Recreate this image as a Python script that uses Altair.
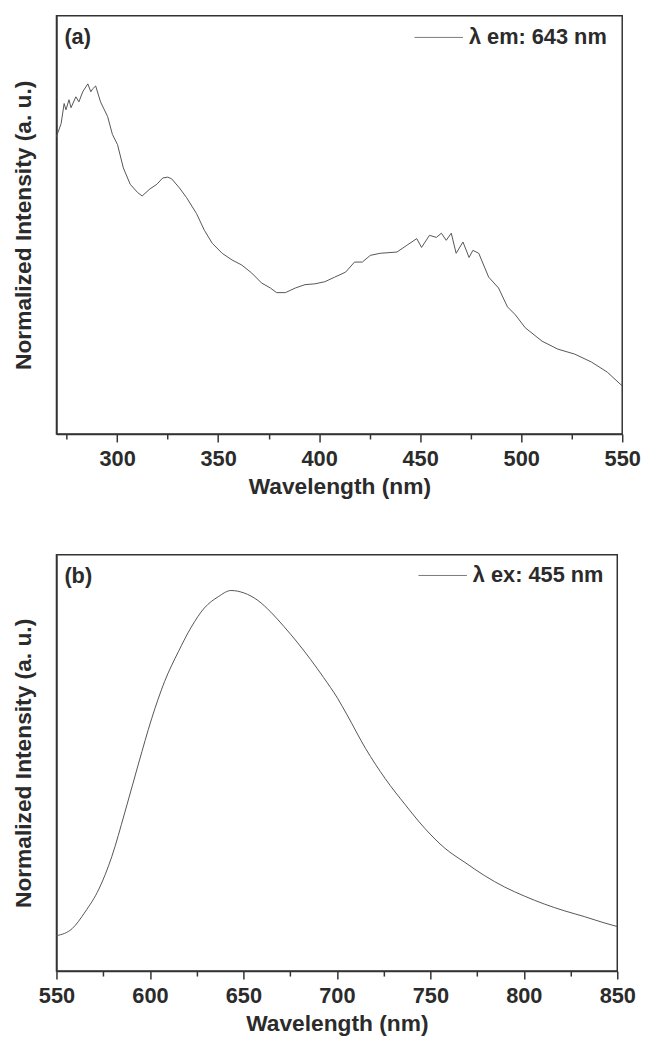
import altair as alt
import pandas as pd

# ---- (a) excitation spectrum, monitored at 643 nm ----
ex_wavelength = [270, 272.3, 273.8, 274.7, 276.2, 277.2, 279.6, 281.1, 283.0, 285.5,
                 287.0, 287.9, 289.4, 291.8, 295.3, 297.7, 300.2, 303.1, 306.5, 310.2,
                 312.4, 316.3, 319.7, 322.6, 325.1, 327.0, 330.9, 334.4, 339.3, 343.2,
                 347.1, 352.0, 356.9, 361.7, 366.6, 371.5, 375.9, 378.9, 383.3, 388.2,
                 393.0, 397.9, 402.8, 407.7, 413.1, 417.5, 421.4, 425.3, 430.2, 438.5,
                 443.4, 448.3, 450.7, 454.6, 458.0, 460.5, 462.9, 465.4, 467.8, 471.2,
                 474.2, 476.1, 479.0, 483.9, 488.8, 493.2, 497.1, 502.0, 510.3, 518.1,
                 526.5, 534.8, 542.6, 550]
ex_intensity = [0.711, 0.742, 0.790, 0.775, 0.799, 0.780, 0.806, 0.794, 0.818, 0.837,
                0.818, 0.825, 0.832, 0.794, 0.759, 0.716, 0.692, 0.636, 0.597, 0.577,
                0.569, 0.586, 0.597, 0.612, 0.614, 0.610, 0.588, 0.565, 0.527, 0.487,
                0.456, 0.432, 0.416, 0.404, 0.385, 0.361, 0.349, 0.338, 0.338, 0.349,
                0.357, 0.359, 0.364, 0.375, 0.387, 0.411, 0.411, 0.427, 0.432, 0.435,
                0.451, 0.467, 0.446, 0.475, 0.470, 0.480, 0.463, 0.480, 0.432, 0.459,
                0.422, 0.439, 0.432, 0.375, 0.349, 0.304, 0.285, 0.254, 0.222, 0.203,
                0.191, 0.172, 0.148, 0.115]

# ---- (b) emission spectrum, excited at 455 nm ----
em_wavelength = [550, 558.4, 565.3, 572.7, 579.6, 586.5, 594.0, 600.9, 607.8, 615.2,
                 622.1, 629.1, 636.5, 643.4, 650.4, 657.8, 664.7, 671.6, 679.1, 686.0,
                 692.9, 700.4, 705.5, 715.3, 725.9, 736.5, 747.2, 757.8, 768.5, 779.1,
                 789.7, 800.4, 811.0, 821.6, 832.3, 842.9, 850]
em_intensity = [0.085, 0.102, 0.142, 0.197, 0.275, 0.380, 0.500, 0.606, 0.695, 0.767,
                0.826, 0.872, 0.899, 0.914, 0.908, 0.890, 0.862, 0.828, 0.788, 0.748,
                0.705, 0.655, 0.615, 0.535, 0.462, 0.400, 0.342, 0.295, 0.261, 0.229,
                0.202, 0.180, 0.161, 0.145, 0.131, 0.116, 0.107]

ticks_a = [275, 300, 325, 350, 375, 400, 425, 450, 475, 500, 525, 550]
ticks_b = [550, 575, 600, 625, 650, 675, 700, 725, 750, 775, 800, 825, 850]

FONT = "Liberation Sans"
INK = "#2b2b2b"
LINE = "#555555"
KEY = "#7a7a7a"


def panel(wl, inten, label, xdom, ticks, tag, width, height, key_x, key_y, interp):
    df = pd.DataFrame({"wavelength": wl, "intensity": inten})
    line = alt.Chart(df).mark_line(strokeWidth=1, interpolate=interp, color=LINE).encode(
        x=alt.X(
            "wavelength:Q",
            scale=alt.Scale(domain=xdom, nice=False, zero=False),
            axis=alt.Axis(
                title="Wavelength (nm)",
                values=ticks,
                labelExpr="datum.value % 50 === 0 ? datum.label : ''",
                tickSize={"condition": {"test": "datum.value % 50 === 0", "value": 8}, "value": 5},
                labelPadding=7,
                labelFlush=False,
                labelOverlap=False,
                titlePadding=6,
                grid=False,
            ),
        ),
        y=alt.Y(
            "intensity:Q",
            scale=alt.Scale(domain=[0, 1], nice=False, zero=False),
            axis=alt.Axis(
                title="Normalized Intensity (a. u.)",
                labels=False,
                ticks=False,
                grid=False,
                titlePadding=21,
            ),
        ),
    )
    txt = pd.DataFrame({"t": [tag], "k": [label]})
    tag_text = alt.Chart(txt).mark_text(
        align="left", baseline="middle", font=FONT, fontSize=22, fontWeight="bold", color=INK
    ).encode(text="t:N", x=alt.value(8), y=alt.value(22))
    key_line = alt.Chart(txt).mark_rule(color=KEY, strokeWidth=1).encode(
        x=alt.value(key_x), x2=alt.value(key_x + 49), y=alt.value(key_y)
    )
    key_text = alt.Chart(txt).mark_text(
        align="left", baseline="middle", font=FONT, fontSize=22, fontWeight="bold", color=INK
    ).encode(text="k:N", x=alt.value(key_x + 55), y=alt.value(key_y))
    return alt.layer(line, tag_text, key_line, key_text).properties(width=width, height=height)


top = panel(ex_wavelength, ex_intensity, "λ em: 643 nm", [270, 550], ticks_a, "(a)",
            572, 423, 362, 22, "linear")
bottom = panel(em_wavelength, em_intensity, "λ ex: 455 nm", [550, 850], ticks_b, "(b)",
               567, 421, 366, 21, "monotone")

chart = alt.vconcat(
    top, bottom, spacing=55, background="white",
    padding={"left": 4, "right": 0, "top": 1, "bottom": 5},
).configure_view(
    stroke="#333333", strokeWidth=1.5
).configure_axis(
    domainColor="#333333",
    domainWidth=1.5,
    tickColor="#333333",
    tickWidth=1.5,
    labelFont=FONT,
    labelFontSize=22,
    labelFontWeight="bold",
    labelColor=INK,
    titleFont=FONT,
    titleFontSize=23,
    titleFontWeight="bold",
    titleColor=INK,
)

chart.save("out.html", embed_options={"renderer": "svg", "actions": False})
